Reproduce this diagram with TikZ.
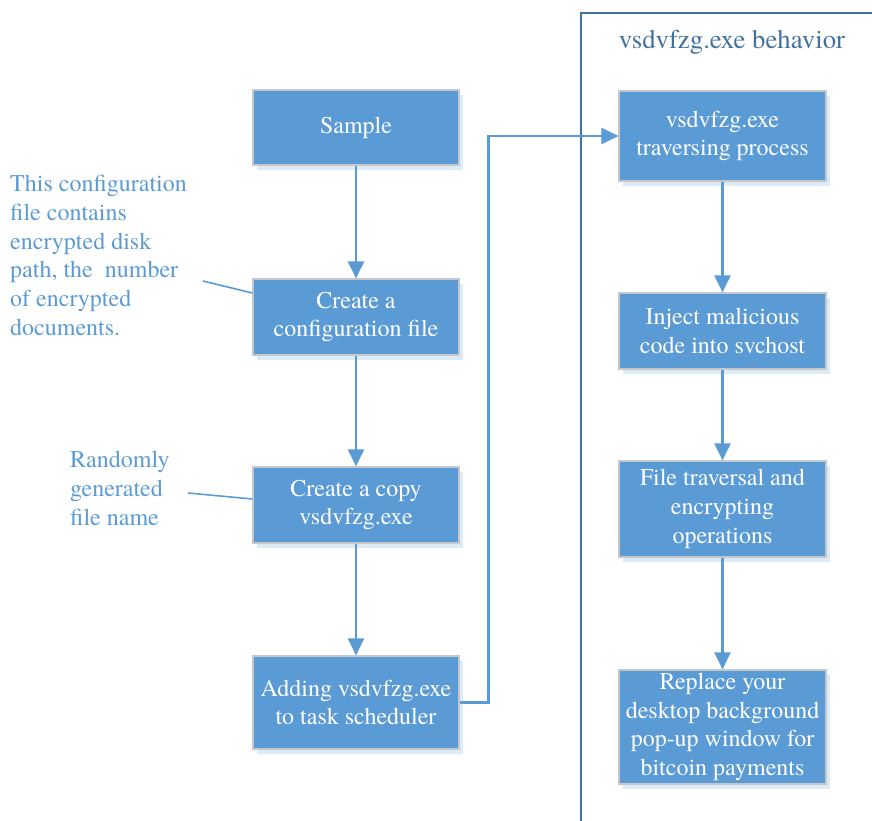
\documentclass[tikz,border=0pt]{standalone}
\usepackage{fontspec}
\setmainfont{TeX Gyre Termes}
\usetikzlibrary{arrows.meta,shadows}
\definecolor{boxblue}{HTML}{5B9BD5}
\definecolor{shadeblue}{HTML}{DDEBF7}
\definecolor{edgegray}{HTML}{C4C8CC}
\definecolor{framecol}{HTML}{41719C}
\tikzset{
  flowbox/.style={draw=edgegray, line width=1.2pt, fill=boxblue, text=white,
    align=center, inner sep=2pt, font=\fontsize{24}{28.7}\selectfont,
    drop shadow={shadow xshift=4pt, shadow yshift=-5pt, fill=shadeblue, opacity=1}},
  flowarrow/.style={draw=boxblue, line width=2.4pt,
    -{Triangle[length=17pt,width=16pt]}},
  noteline/.style={draw=boxblue, line width=1.6pt},
  notetext/.style={text=boxblue, align=left, inner sep=0pt,
    font=\fontsize{24}{28.7}\selectfont}
}
\begin{document}
\begin{tikzpicture}[x=1pt,y=-1pt]
\useasboundingbox (0,0) rectangle (872,820);

% behaviour frame
\draw[framecol, line width=1.8pt] (581,830) -- (581,13) -- (880,13);
\node[text=framecol, font=\fontsize{26.8}{31}\selectfont] (title) at (732,42) {vsdvfzg.exe behavior};

% left column
\node[flowbox, minimum width=206pt, minimum height=75pt] (sample) at (356,127.5) {Sample};
\node[flowbox, minimum width=206pt, minimum height=76pt] (cfg) at (356,317) {Create a\\configuration file};
\node[flowbox, minimum width=206pt, minimum height=76pt] (copy) at (356,505) {Create a copy\\vsdvfzg.exe};
\node[flowbox, minimum width=206pt, minimum height=93pt] (add) at (356,702.5) {Adding vsdvfzg.exe\\to task scheduler};

% right column
\node[flowbox, minimum width=207pt, minimum height=90pt] (trav) at (722.5,136) {vsdvfzg.exe\\traversing process};
\node[flowbox, minimum width=207pt, minimum height=76pt] (inj) at (722.5,331) {Inject malicious\\code into svchost};
\node[flowbox, minimum width=207pt, minimum height=96pt] (enc) at (722.5,509) {File traversal and\\encrypting\\operations};
\node[flowbox, minimum width=207pt, minimum height=114pt] (rep) at (722.5,727) {Replace your\\desktop background\\pop-up window for\\bitcoin payments};

% annotations
\node[notetext, anchor=north west] (note1) at (10,175)
  {This configuration\\file contains\\encrypted disk\\path, the\ \ number\\of encrypted\\documents.};
\node[notetext, anchor=north west] (note2) at (70,451)
  {Randomly\\generated\\file name};
\coordinate (n1end) at (203,281);
\coordinate (n2end) at (188,493);
\draw[noteline] (n1end) -- ([yshift=24pt]cfg.west);
\draw[noteline] (n2end) -- ([yshift=6pt]copy.west);

% flow connectors
\draw[flowarrow] (sample) -- (cfg);
\draw[flowarrow] (cfg) -- (copy);
\draw[flowarrow] (copy) -- (add);
\draw[flowarrow] (add.east) -- ++(29,0) |- (trav.west);
\draw[flowarrow] (trav) -- (inj);
\draw[flowarrow] (inj) -- (enc);
\draw[flowarrow] (enc) -- (rep);
\end{tikzpicture}
\end{document}
